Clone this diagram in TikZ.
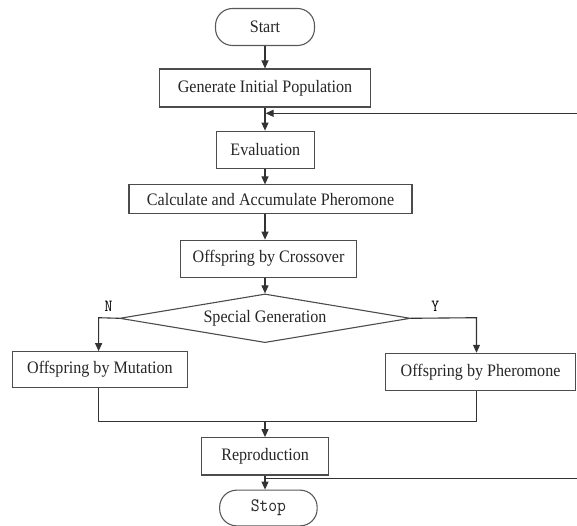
\documentclass[tikz,border=0pt]{standalone}
\usepackage{fontspec}
\setmainfont{Liberation Serif}[FakeStretch=0.92]
\setmonofont{Latin Modern Mono}[FakeStretch=0.9]
\usetikzlibrary{arrows.meta,shapes.geometric}
\begin{document}
\begin{tikzpicture}[x=1pt,y=-1pt,
  line width=1.1pt,
  every node/.style={font=\fontsize{17.5}{20}\selectfont, text=black!85},
  box/.style={draw=black!70, rectangle, inner sep=0pt},
  term/.style={draw=black!65, rectangle, rounded corners=17pt, inner sep=0pt},
  monolabel/.style={font=\ttfamily\fontsize{19}{21}\selectfont},
  decision/.style={draw=black!70, diamond, inner sep=0pt},
  flow/.style={draw=black!80},
  arr/.style={flow, -{Triangle[length=8pt,width=7pt]}},
  yn/.style={font=\ttfamily\fontsize{17}{19}\selectfont, inner sep=0pt, text=black}
]
\useasboundingbox (0,0) rectangle (577,526);

% process boxes
\node[term, minimum width=99pt, minimum height=37pt] (start) at (265,27) {Start};
\node[box, minimum width=211pt, minimum height=38pt] (gen) at (265,88) {Generate Initial Population};
\node[box, minimum width=98.5pt, minimum height=37pt] (eval) at (265.3,149.7) {Evaluation};
\node[box, minimum width=283pt, minimum height=28.5pt] (calc) at (270.5,199.2) {Calculate and Accumulate Pheromone};
\node[box, minimum width=176.5pt, minimum height=37pt] (cross) at (268.6,258.7) {Offspring by Crossover};
\node[decision, minimum width=290.7pt, minimum height=48.7pt, aspect=5.97] (special) at (265,318.3) {Special Generation};
\node[box, minimum width=175.5pt, minimum height=36pt] (mut) at (99.9,369.7) {Offspring by Mutation};
\node[box, minimum width=190.5pt, minimum height=37.4pt] (pher) at (480.6,372) {Offspring by Pheromone};
\node[box, minimum width=127pt, minimum height=37.3pt] (repro) at (265.1,456.3) {Reproduction};
\node[term, monolabel, minimum width=97.5pt, minimum height=35.7pt] (stop) at (268.4,508) {Stop};

% branch labels
\node[yn] (nlab) at (108.6,306.5) {N};
\node[yn] (ylab) at (435.3,306.5) {Y};

% routing points
\coordinate (fbtop) at (577,113.3);
\coordinate (fbbot) at (577,478.3);
\coordinate (lcorner) at (98.6,317.7);
\coordinate (rcorner) at (476.5,317.7);
\coordinate (merge) at (265,421.7);

% main flow
\draw[arr] (start.south -| gen.north) -- (gen.north);
\draw[arr] (gen.south) -- (gen.south |- eval.north);
\draw[arr] (fbtop) -- ([xshift=0.6pt]fbtop -| gen.south);
\draw[arr] (eval.south -| start.south) -- (start.south |- calc.north);
\draw[arr] (start.south |- calc.south) -- (start.south |- cross.north);
\draw[arr] (start.south |- cross.south) -- (special.north);

% decision branches
\draw[arr] (special.west) -- (lcorner) -- (lcorner |- mut.north);
\draw[arr] (special.east) -- (rcorner) -- (rcorner |- pher.north);

% merge and finish
\draw[flow] (lcorner |- mut.south) -- (lcorner |- merge) -- (rcorner |- merge) -- (rcorner |- pher.south);
\draw[arr] (merge) -- (merge |- repro.north);
\draw[arr] (merge |- repro.south) -- (merge |- stop.north);
\draw[flow] (merge |- fbbot) -- (fbbot);
\end{tikzpicture}
\end{document}
